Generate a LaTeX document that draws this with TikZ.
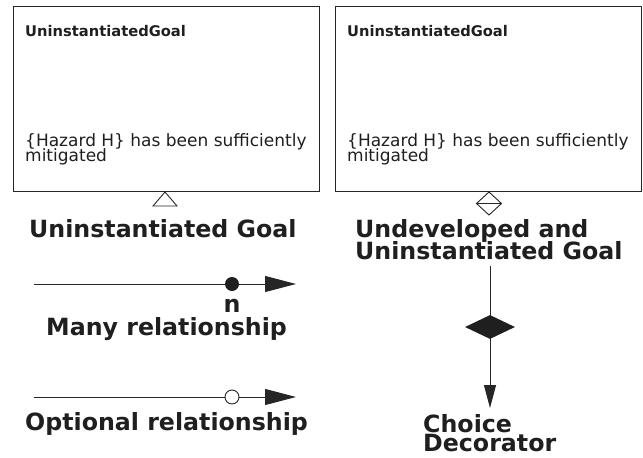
\documentclass[tikz,border=0pt]{standalone}
\usepackage{fontspec}
\setmainfont{DejaVu Sans}
\usetikzlibrary{arrows.meta,shapes.geometric}
\begin{document}
\begin{tikzpicture}[x=1pt,y=-1pt,
  box/.style={draw=black!85,line width=1pt,anchor=north west,minimum width=306pt,minimum height=185pt,inner sep=0},
  title/.style={font=\bfseries\fontsize{14.7}{16}\selectfont,anchor=base west,inner sep=0,text=black!88},
  body/.style={font=\fontsize{17}{13}\selectfont,anchor=base west,inner sep=0,text=black!88},
  big/.style={font=\bfseries\fontsize{23.7}{19}\selectfont,anchor=base west,inner sep=0,text=black!88},
  conn/.style={line width=1pt,draw=black!85},
  deco/.style={line width=0.9pt,draw=black!85},
]
\useasboundingbox (0,0) rectangle (643,458);
% left goal box
\node[box] (g1) at (13,6) {};
\node[title] (g1t) at (25,36) {UninstantiatedGoal};
\node[body] (g1a) at (25,146) {\{Hazard H\} has been sufficiently};
\node[body] (g1b) at (25,161) {mitigated};
\draw[deco,fill=white] (165,192) -- (153,206) -- (177,206) -- cycle;
\node[big] (l1) at (29,237) {Uninstantiated Goal};
% right goal box
\node[box] (g2) at (335,6) {};
\node[title] (g2t) at (347,36) {UninstantiatedGoal};
\node[body] (g2a) at (347,146) {\{Hazard H\} has been sufficiently};
\node[body] (g2b) at (347,161) {mitigated};
\draw[deco,fill=white] (489,192) -- (501.5,203.5) -- (489,215) -- (476.5,203.5) -- cycle
  (476.5,203.5) -- (501.5,203.5);
\node[big] (l2a) at (355,237) {Undeveloped and};
\node[big] (l2b) at (355,259) {Uninstantiated Goal};
% many relationship
\coordinate (m0) at (34,284);
\coordinate (m1) at (296,284);
\draw[conn,-{Triangle[length=31pt,width=16pt]}] (m0) -- (m1);
\node[circle,fill=black!88,inner sep=0,minimum size=14pt] (mc) at (232,284) {};
\node[big,anchor=base] (mn) at (232,312) {n};
\node[big] (l3) at (46,335) {Many relationship};
% optional relationship
\coordinate (o0) at (34,397);
\coordinate (o1) at (296,397);
\draw[conn,-{Triangle[length=31pt,width=16pt]}] (o0) -- (o1);
\node[circle,draw=black!85,line width=0.9pt,fill=white,inner sep=0,minimum size=14pt] (oc) at (232,397) {};
\node[big] (l4) at (25,430) {Optional relationship};
% choice decorator
\coordinate (c0) at (490,266);
\coordinate (c1) at (490,408);
\draw[conn,-{Triangle[length=23pt,width=12pt]}] (c0) -- (c1);
\node[diamond,fill=black!88,inner sep=0,minimum width=50pt,minimum height=24pt] (cd) at (490,327) {};
\node[big] (l5a) at (423,432) {Choice};
\node[big] (l5b) at (423,451) {Decorator};
\end{tikzpicture}
\end{document}
